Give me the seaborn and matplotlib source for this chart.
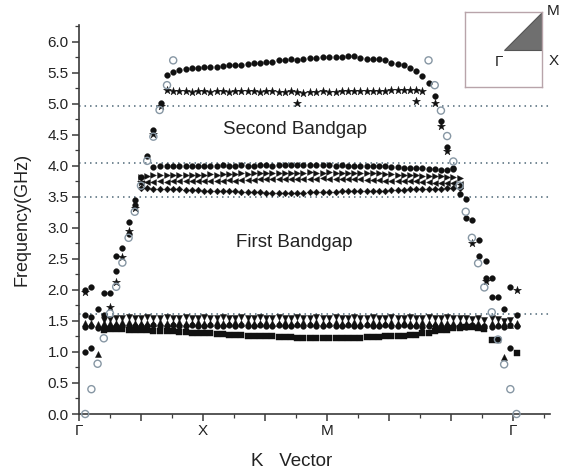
import numpy as np
import matplotlib
matplotlib.use("Agg")
import matplotlib.pyplot as plt
import seaborn as sns
from matplotlib.ticker import MultipleLocator, FormatStrFormatter
from matplotlib.patches import Polygon

# k-points along the path (Γ -> X -> M -> Γ)
K = [0.05, 0.10, 0.15, 0.20, 0.25, 0.30, 0.35, 0.40, 0.45, 0.50,
     0.55, 0.60, 0.65, 0.71, 0.76, 0.81, 0.86, 0.91, 0.96, 1.01,
     1.06, 1.11, 1.16, 1.21, 1.26, 1.31, 1.36, 1.41, 1.46, 1.51,
     1.56, 1.61, 1.66, 1.71, 1.76, 1.81, 1.86, 1.91, 1.97, 2.02,
     2.07, 2.12, 2.17, 2.22, 2.27, 2.32, 2.37, 2.42, 2.47, 2.52,
     2.57, 2.62, 2.67, 2.72, 2.77, 2.82, 2.87, 2.92, 2.97, 3.02,
     3.07, 3.12, 3.17, 3.22, 3.27, 3.33, 3.38, 3.43, 3.48, 3.53]

# acoustic (open circles), steep parts near the two Γ points
open_left = [0.00, 0.40, 0.81, 1.22, 1.62, 2.05, 2.44, 2.84, 3.26, 3.68,
             4.08, 4.47, 4.90, 5.30, 5.70]                       # K[0:15]
open_right = [5.70, 5.30, 4.89, 4.48, 4.07, 3.68, 3.26, 2.84, 2.43, 2.04,
              1.64, 1.20, 0.80, 0.40, 0.00]                      # K[55:70]

# top band ~5.6-5.77
top_y = [5.47, 5.51, 5.54, 5.56, 5.57, 5.58, 5.59, 5.60, 5.60, 5.61,
         5.62, 5.63, 5.63, 5.64, 5.65, 5.66, 5.67, 5.68, 5.70, 5.71,
         5.72, 5.71, 5.73, 5.74, 5.74, 5.75, 5.75, 5.76, 5.76, 5.77,
         5.77, 5.74, 5.73, 5.73, 5.72, 5.70, 5.66, 5.64, 5.62, 5.57,
         5.53, 5.45, 5.34, 5.12]                                 # from K[13]

# star band ~5.2
star_y = [5.23, 5.21, 5.20, 5.20, 5.19, 5.20, 5.20, 5.19, 5.20, 5.20,
          5.19, 5.20, 5.20, 5.21, 5.20, 5.19, 5.20, 5.20, 5.19, 5.19,
          5.20, 5.19, 5.18, 5.19, 5.19, 5.20, 5.19, 5.19, 5.20, 5.20,
          5.20, 5.21, 5.21, 5.20, 5.21, 5.21, 5.22, 5.22, 5.23, 5.23,
          5.22, 5.20]                                            # from K[13]

# middle group 3.55-4.0
mid_dot_y = [3.98, 3.99, 3.99, 4.00, 3.99, 4.00, 4.00, 4.00, 3.99, 4.00,
             4.00, 4.01, 4.00, 4.00, 4.01, 4.00, 4.00, 4.01, 4.01, 4.00,
             4.01, 4.01, 4.02, 4.01, 4.01, 4.02, 4.01, 4.01, 4.01, 4.00,
             4.01, 4.00, 4.00, 4.00, 3.99, 4.00, 3.99, 3.99, 3.98, 3.98,
             3.97, 3.97, 3.96, 3.96, 3.95, 3.95, 3.94, 3.94, 3.95]  # from K[11]
right_tri_y = [3.82, 3.84, 3.85, 3.85, 3.85, 3.86, 3.85, 3.86, 3.86, 3.86,
               3.86, 3.87, 3.86, 3.87, 3.87, 3.87, 3.88, 3.87, 3.88, 3.88,
               3.88, 3.89, 3.88, 3.89, 3.89, 3.89, 3.89, 3.90, 3.89, 3.89,
               3.90, 3.89, 3.89, 3.89, 3.88, 3.89, 3.88, 3.88, 3.88, 3.87,
               3.87, 3.86, 3.86, 3.85, 3.85, 3.84, 3.84, 3.83, 3.83, 3.82,
               3.82, 3.81]                                       # from K[9]
left_tri_y = [3.72, 3.74, 3.74, 3.75, 3.74, 3.75, 3.75, 3.75, 3.75, 3.76,
              3.75, 3.76, 3.76, 3.76, 3.77, 3.76, 3.77, 3.77, 3.77, 3.78,
              3.78, 3.78, 3.78, 3.79, 3.78, 3.79, 3.79, 3.79, 3.79, 3.80,
              3.79, 3.79, 3.79, 3.78, 3.78, 3.78, 3.77, 3.77, 3.77, 3.76,
              3.76, 3.76, 3.75, 3.75, 3.75, 3.74, 3.74, 3.73, 3.73, 3.72,
              3.72, 3.71]                                        # from K[9]
diamond_y = [3.65, 3.64, 3.63, 3.63, 3.62, 3.62, 3.62, 3.61, 3.61, 3.61,
             3.60, 3.60, 3.60, 3.59, 3.59, 3.59, 3.58, 3.58, 3.58, 3.58,
             3.57, 3.57, 3.57, 3.57, 3.57, 3.57, 3.57, 3.58, 3.58, 3.58,
             3.58, 3.58, 3.59, 3.59, 3.59, 3.59, 3.60, 3.60, 3.60, 3.60,
             3.61, 3.61, 3.61, 3.62, 3.62, 3.62, 3.63, 3.63, 3.63, 3.64,
             3.64, 3.65]                                         # from K[9]

# low group 1.2-1.55
down_y = [1.52, 1.53, 1.54, 1.55, 1.56, 1.55, 1.55,
          1.56, 1.55, 1.55, 1.56, 1.55, 1.55, 1.56, 1.55, 1.55, 1.56,
          1.55, 1.55, 1.56, 1.55, 1.55, 1.56, 1.55, 1.55, 1.56, 1.55,
          1.55, 1.56, 1.55, 1.55, 1.56, 1.55, 1.55, 1.56, 1.55, 1.55,
          1.56, 1.55, 1.55, 1.56, 1.55, 1.55, 1.56, 1.55, 1.55, 1.56,
          1.55, 1.55, 1.56, 1.55, 1.55, 1.56, 1.55, 1.55, 1.56, 1.55,
          1.54, 1.55, 1.53, 1.54, 1.52, 1.55, 1.53, 1.50, 1.52]  # from K[3]
up_y = [1.46, 1.46, 1.45, 1.46, 1.47, 1.47, 1.48, 1.48, 1.47, 1.47,
        1.47, 1.47, 1.48, 1.47, 1.47, 1.48, 1.47, 1.47, 1.48, 1.47,
        1.47, 1.48, 1.47, 1.47, 1.48, 1.47, 1.48, 1.47, 1.47, 1.48,
        1.47, 1.47, 1.48, 1.47, 1.47, 1.48, 1.47, 1.48, 1.47, 1.47,
        1.48, 1.47, 1.47, 1.48, 1.47, 1.47, 1.48, 1.47, 1.47, 1.48,
        1.47, 1.48, 1.47, 1.47, 1.48, 1.47, 1.47, 1.46, 1.47, 1.46,
        1.46, 1.47, 1.45, 1.46, 1.44, 1.46, 1.45, 1.47, 1.44, 1.46]  # from K[0]
low_dot_y = [1.41, 1.42, 1.39, 1.40, 1.41, 1.42, 1.42, 1.42, 1.42, 1.42,
             1.42, 1.43, 1.42, 1.42, 1.43, 1.42, 1.42, 1.43, 1.42, 1.42,
             1.43, 1.42, 1.42, 1.43, 1.42, 1.43, 1.42, 1.42, 1.43, 1.42,
             1.42, 1.43, 1.42, 1.42, 1.43, 1.42, 1.43, 1.42, 1.42, 1.43,
             1.42, 1.42, 1.43, 1.42, 1.42, 1.43, 1.42, 1.42, 1.43, 1.42,
             1.42, 1.43, 1.42, 1.42, 1.41, 1.42, 1.42, 1.41, 1.42, 1.41,
             1.42, 1.41, 1.43, 1.41, 1.42, 1.40, 1.42, 1.41, 1.43, 1.42]  # from K[0]
square_y = [1.36, 1.37, 1.37, 1.37, 1.36, 1.36, 1.35, 1.35, 1.34, 1.34,
            1.33, 1.33, 1.32, 1.32, 1.31, 1.31, 1.30, 1.30, 1.29, 1.29,
            1.28, 1.27, 1.27, 1.26, 1.26, 1.25, 1.25, 1.25, 1.24, 1.24,
            1.24, 1.23, 1.23, 1.23, 1.23, 1.23, 1.22, 1.22, 1.23, 1.23,
            1.23, 1.23, 1.24, 1.24, 1.24, 1.25, 1.25, 1.25, 1.26, 1.27,
            1.28, 1.30, 1.31, 1.33, 1.35, 1.36, 1.38, 1.39, 1.40, 1.40,
            1.39, 1.37]                                          # from K[3]

# scattered points on the steep branches
steep_dot_x = [0.05, 0.10, 0.05, 0.10, 0.05, 0.10, 0.15, 0.20, 0.25, 0.20,
               0.30, 0.30, 0.35, 0.40, 0.40, 0.45, 0.45, 0.50, 0.55, 0.60,
               0.66, 2.92, 2.97, 3.02, 3.07, 3.12, 3.12, 3.17, 3.23, 3.23,
               3.28, 3.28, 3.33, 3.33, 3.38, 3.43, 3.48, 3.53, 3.48]
steep_dot_y = [2.00, 2.04, 1.60, 1.57, 1.00, 1.07, 1.70, 1.95, 1.95, 1.60,
               2.31, 2.55, 2.68, 3.09, 2.90, 3.45, 3.37, 3.82, 4.16, 4.58,
               5.02, 4.72, 4.31, 3.97, 3.55, 3.47, 3.16, 3.12, 2.80, 2.54,
               2.47, 2.20, 2.19, 1.89, 1.89, 1.69, 2.04, 1.60, 1.06]
steep_star_x = [0.05, 0.25, 0.30, 0.35, 0.40, 0.45, 0.50, 0.60, 0.66,
                1.76, 2.72, 2.87, 2.92, 2.97, 3.17, 3.28, 3.53]
steep_star_y = [1.96, 1.73, 2.13, 2.53, 2.95, 3.32, 3.74, 4.52, 4.97,
                5.01, 5.04, 5.02, 4.64, 4.24, 2.76, 2.14, 2.00]
extra_up_x = [0.15, 3.43]
extra_up_y = [0.97, 0.92]
extra_sq_x = [3.33, 3.38, 3.53]
extra_sq_y = [1.19, 1.19, 0.99]

gap_lines = [4.97, 4.05, 3.49, 1.61]
x_ticks = [0, 0.5, 1.0, 1.5, 2.0, 2.5, 3.0, 3.5]
x_labels = ['Γ', '', 'X', '', 'M', '', '', 'Γ']


def seg(start, ys):
    return K[start:start + len(ys)], ys


ink = '#111111'
dot = dict(marker='o', s=17, color=ink, edgecolor=ink, linewidth=0.3)
star = dict(marker='*', s=36, color=ink, edgecolor=ink, linewidth=0.3)
up = dict(marker='^', s=19, color=ink, edgecolor=ink, linewidth=0.3)
sq = dict(marker='s', s=13, color=ink, edgecolor=ink, linewidth=0.3)
hollow = dict(marker='o', s=26, facecolor='none', edgecolor='#8797a4', linewidth=1.0)

series = [
    (seg(3, square_y), sq),
    (seg(0, low_dot_y), dot),
    (seg(0, up_y), up),
    (seg(3, down_y), dict(marker='v', s=19, color=ink, edgecolor=ink, linewidth=0.3)),
    (seg(9, diamond_y), dict(marker='D', s=11, color=ink, edgecolor=ink, linewidth=0.3)),
    (seg(9, left_tri_y), dict(marker='<', s=18, color=ink, edgecolor=ink, linewidth=0.3)),
    (seg(9, right_tri_y), dict(marker='>', s=18, color=ink, edgecolor=ink, linewidth=0.3)),
    (seg(11, mid_dot_y), dot),
    (seg(13, star_y), star),
    (seg(13, top_y), dot),
    ((steep_dot_x, steep_dot_y), dot),
    ((steep_star_x, steep_star_y), star),
    ((extra_up_x, extra_up_y), up),
    ((extra_sq_x, extra_sq_y), sq),
    (seg(0, open_left), hollow),
    (seg(55, open_right), hollow),
]

sns.set_style("ticks")
plt.rcParams['font.family'] = ['Liberation Sans', 'DejaVu Sans']

fig = plt.figure(figsize=(5.73, 4.76), dpi=100)
ax = fig.add_axes([79 / 573, 62 / 476, 471 / 573, 389 / 476])

for y0 in gap_lines:
    ax.axhline(y0, color='#4f6878', lw=1.1, ls=(0, (1, 2.6)), zorder=1)

for (xs, ys), st in series:
    sns.scatterplot(x=xs, y=ys, ax=ax, clip_on=False, zorder=3, **st)

ax.set_xlim(0, 3.8)
ax.set_ylim(0, 6.27)
ax.set_xticks(x_ticks, x_labels)
ax.xaxis.set_minor_locator(MultipleLocator(0.25))
ax.yaxis.set_major_locator(MultipleLocator(0.5))
ax.yaxis.set_minor_locator(MultipleLocator(0.25))
ax.yaxis.set_major_formatter(FormatStrFormatter('%.1f'))

sns.despine(ax=ax)
for sp in ['left', 'bottom']:
    ax.spines[sp].set_color('#3a3a3a')
    ax.spines[sp].set_linewidth(1.2)
ax.tick_params(which='major', direction='out', length=5, width=1.1,
               colors='#3a3a3a', labelcolor='#222222', labelsize=11, pad=2.5)
ax.tick_params(which='minor', direction='out', length=3, width=0.9, colors='#3a3a3a')

ax.set_ylabel('Frequency(GHz)', fontsize=13, color='#222222')
ax.yaxis.set_label_coords(-0.121, 0.5)
ax.yaxis.label.set_va('center')
ax.set_xlabel('K   Vector', fontsize=13.5, color='#222222')
ax.xaxis.set_label_coords(0.452, -0.123)
ax.xaxis.label.set_va('center')

ax.text(1.74, 4.58, 'Second Bandgap', fontsize=13.5, color='#222222',
        ha='center', va='center')
ax.text(1.74, 2.76, 'First Bandgap', fontsize=13.5, color='#222222',
        ha='center', va='center')

# Brillouin zone inset
ins = fig.add_axes([465 / 573, (476 - 87) / 476, 77 / 573, 75 / 476])
ins.set_xlim(0, 1)
ins.set_ylim(0, 1)
ins.set_xticks([])
ins.set_yticks([])
for sp in ins.spines.values():
    sp.set_color('#b8a4aa')
    sp.set_linewidth(1.0)
ins.add_patch(Polygon([[0.5, 0.5], [1, 0.5], [1, 1]], closed=True,
                      facecolor='#6f6f6f', edgecolor='#555555', lw=0.8))
fig.text(553 / 573, 1 - 11 / 476, 'M', fontsize=11, ha='center', va='center', color='#222222')
fig.text(554 / 573, 1 - 61 / 476, 'X', fontsize=11, ha='center', va='center', color='#222222')
fig.text(499 / 573, 1 - 62 / 476, 'Γ', fontsize=11, ha='center', va='center', color='#222222')

fig.savefig('out.png', dpi=100)
